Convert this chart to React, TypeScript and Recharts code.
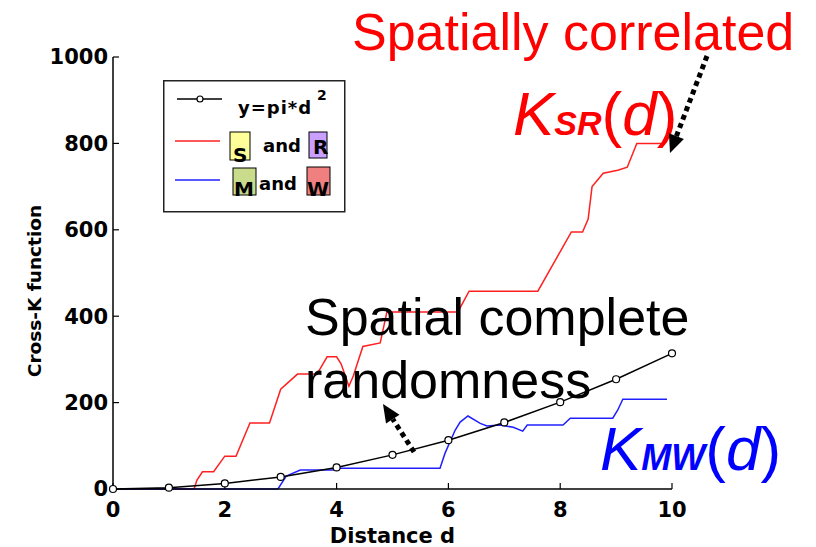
import { CartesianGrid, Legend, Line, LineChart, XAxis, YAxis } from "recharts";

// y = pi*d^2 reference curve, read at the marker positions
const csrD = [0, 1, 2, 3, 4, 5, 6, 7, 8, 9, 10];
const csrK = [0, 3, 13, 28, 50, 79, 113, 154, 201, 254, 314];

// S and R (spatially correlated)
const srD = [0, 1.45, 1.5, 1.6, 1.8, 2.0, 2.2, 2.45, 2.8, 3.0, 3.3, 3.65, 3.83, 4.0, 4.08, 4.22, 4.3, 4.47, 4.78, 4.9, 6.17, 6.37, 7.6, 8.2, 8.4, 8.5, 8.57, 8.77, 9.03, 9.2, 9.37, 9.85];
const srK = [0, 0, 20, 40, 40, 76, 76, 153, 153, 231, 266, 266, 306, 306, 290, 238, 262, 330, 338, 410, 410, 458, 458, 595, 595, 625, 700, 731, 738, 745, 800, 800];

// M and W
const mwD = [0, 2.95, 3.1, 3.35, 3.94, 4.0, 5.85, 5.94, 6.12, 6.21, 6.35, 6.57, 6.69, 6.92, 7.16, 7.33, 7.41, 8.05, 8.18, 8.94, 9.03, 9.12, 9.91];
const mwK = [0, 0, 30, 44, 44, 48, 48, 83, 136, 155, 169, 152, 146, 148, 143, 134, 148, 148, 164, 164, 183, 208, 208];

const xTicks = [0, 2, 4, 6, 8, 10];
const yTicks = [0, 200, 400, 600, 800, 1000];

const toRows = (ds: number[], ks: number[]) => ds.map((d, i) => ({ d, k: ks[i] }));
const csrData = toRows(csrD, csrK);
const srData = toRows(srD, srK);
const mwData = toRows(mwD, mwK);

const BOLD = "'DejaVu Sans', sans-serif";
const ARIAL = "'Liberation Sans', Arial, sans-serif";

function LegendBox() {
  const t = { fontFamily: BOLD, fontWeight: "bold" as const, fontSize: 18, fill: "#000" };
  return (
    <svg width={183} height={133}>
      <rect x={0.75} y={0.75} width={181} height={131} fill="#fff" stroke="#222" strokeWidth={1.5} />
      <line x1={14} x2={59} y1={19} y2={19} stroke="#000" strokeWidth={1.5} />
      <circle cx={37} cy={19} r={3} fill="#fff" stroke="#000" strokeWidth={1.2} />
      <text x={75} y={34} {...t} letterSpacing={1}>y=pi*d</text>
      <text x={154} y={20} {...t} fontSize={14}>2</text>

      <line x1={12} x2={57} y1={61} y2={61} stroke="#ff2020" strokeWidth={1.5} />
      <rect x={67} y={52} width={20} height={28} fill="#ffff99" stroke="#000" strokeWidth={1} />
      <text x={70} y={82} {...t} fontSize={20}>S</text>
      <text x={100} y={72} {...t}>and</text>
      <rect x={146} y={52} width={18} height={26} fill="#c9a0ff" stroke="#000" strokeWidth={1} />
      <text x={150} y={74} {...t} fontSize={20}>R</text>

      <line x1={12} x2={57} y1={100} y2={100} stroke="#2020ff" strokeWidth={1.5} />
      <rect x={70} y={88} width={23} height={27} fill="#c8dc8c" stroke="#000" strokeWidth={1} />
      <text x={71} y={116} {...t} fontSize={20}>M</text>
      <text x={96} y={110} {...t}>and</text>
      <rect x={144} y={87} width={23} height={28} fill="#f08080" stroke="#000" strokeWidth={1} />
      <text x={144} y={116} {...t} fontSize={20}>W</text>
    </svg>
  );
}

function DottedArrow({ x1, y1, x2, y2 }: { x1: number; y1: number; x2: number; y2: number }) {
  const dx = x2 - x1;
  const dy = y2 - y1;
  const len = Math.hypot(dx, dy);
  const ux = dx / len;
  const uy = dy / len;
  const bx = x2 - ux * 18;
  const by = y2 - uy * 18;
  const pts = `${x2},${y2} ${bx - uy * 8},${by + ux * 8} ${bx + uy * 8},${by - ux * 8}`;
  return (
    <g>
      <line x1={x1} y1={y1} x2={bx} y2={by} stroke="#000" strokeWidth={5} strokeDasharray="5 4" />
      <polygon points={pts} fill="#000" />
    </g>
  );
}

function YLabel() {
  return (
    <text
      transform="rotate(-90 34 291)"
      x={34}
      y={291}
      textAnchor="middle"
      dominantBaseline="central"
      fontFamily={BOLD}
      fontWeight="bold"
      fontSize={18.5}
      fill="#000"
    >
      Cross-K function
    </text>
  );
}

export default function App() {
  const tick = { fontFamily: BOLD, fontWeight: "bold", fontSize: 21, fill: "#000" };
  return (
    <div style={{ position: "absolute", left: 0, top: 0, width: 816, height: 547, background: "#fff" }}>
      <LineChart width={816} height={547} margin={{ top: 57, right: 144, bottom: 0, left: 0 }}>
        <CartesianGrid stroke="none" />
        <XAxis
          type="number"
          dataKey="d"
          domain={[0, 10]}
          ticks={xTicks}
          height={58}
          tick={tick}
          tickSize={-6}
          tickMargin={19}
          axisLine={{ stroke: "#000", strokeWidth: 1.5 }}
          tickLine={{ stroke: "#000", strokeWidth: 1.2 }}
          label={{ value: "Distance d", position: "insideBottom", offset: 4, fontFamily: BOLD, fontWeight: "bold", fontSize: 21, fill: "#000" }}
        />
        <YAxis
          type="number"
          domain={[0, 1000]}
          ticks={yTicks}
          width={113}
          tick={tick}
          tickSize={-6}
          tickMargin={11}
          axisLine={{ stroke: "#000", strokeWidth: 1.5 }}
          tickLine={{ stroke: "#000", strokeWidth: 1.2 }}
          label={{ content: () => <YLabel /> }}
        />
        <Legend
          layout="horizontal"
          verticalAlign="middle"
          align="center"
          wrapperStyle={{ left: 163, top: 80, width: 183, height: 133 }}
          content={() => <LegendBox />}
        />
        <Line data={srData} dataKey="k" name="S and R" type="linear" stroke="#ff2020" strokeWidth={1.5} dot={false} isAnimationActive={false} />
        <Line data={mwData} dataKey="k" name="M and W" type="linear" stroke="#2020ff" strokeWidth={1.5} dot={false} isAnimationActive={false} />
        <Line
          data={csrData}
          dataKey="k"
          name="y=pi*d^2"
          type="linear"
          stroke="#000"
          strokeWidth={1.5}
          dot={{ r: 3.5, fill: "#fff", stroke: "#000", strokeWidth: 1.2 }}
          isAnimationActive={false}
        />
      </LineChart>

      <svg width={816} height={547} style={{ position: "absolute", left: 0, top: 0, pointerEvents: "none" }}>
        <text x={352} y={50} fontFamily={ARIAL} fontSize={52} fill="#ff0000">Spatially correlated</text>
        <text x={513} y={135} fontFamily={ARIAL} fill="#ff0000">
          <tspan fontSize={62} fontStyle="italic">K</tspan>
          <tspan fontSize={34} fontStyle="italic" fontWeight="bold">SR</tspan>
          <tspan fontSize={62}>(</tspan>
          <tspan fontSize={62} fontStyle="italic">d</tspan>
          <tspan fontSize={62}>)</tspan>
        </text>
        <DottedArrow x1={707} y1={56} x2={670} y2={153} />

        <text x={305} y={335} fontFamily={ARIAL} fontSize={52} fill="#000">Spatial complete</text>
        <text x={305} y={398} fontFamily={ARIAL} fontSize={52} fill="#000">randomness</text>
        <DottedArrow x1={414} y1={452} x2={383} y2={404} />

        <text x={600} y={470} fontFamily={ARIAL} fill="#0000ff">
          <tspan fontSize={62} fontStyle="italic">K</tspan>
          <tspan fontSize={36} fontStyle="italic" fontWeight="bold">MW</tspan>
          <tspan fontSize={62}>(</tspan>
          <tspan fontSize={62} fontStyle="italic">d</tspan>
          <tspan fontSize={62}>)</tspan>
        </text>
      </svg>
    </div>
  );
}
